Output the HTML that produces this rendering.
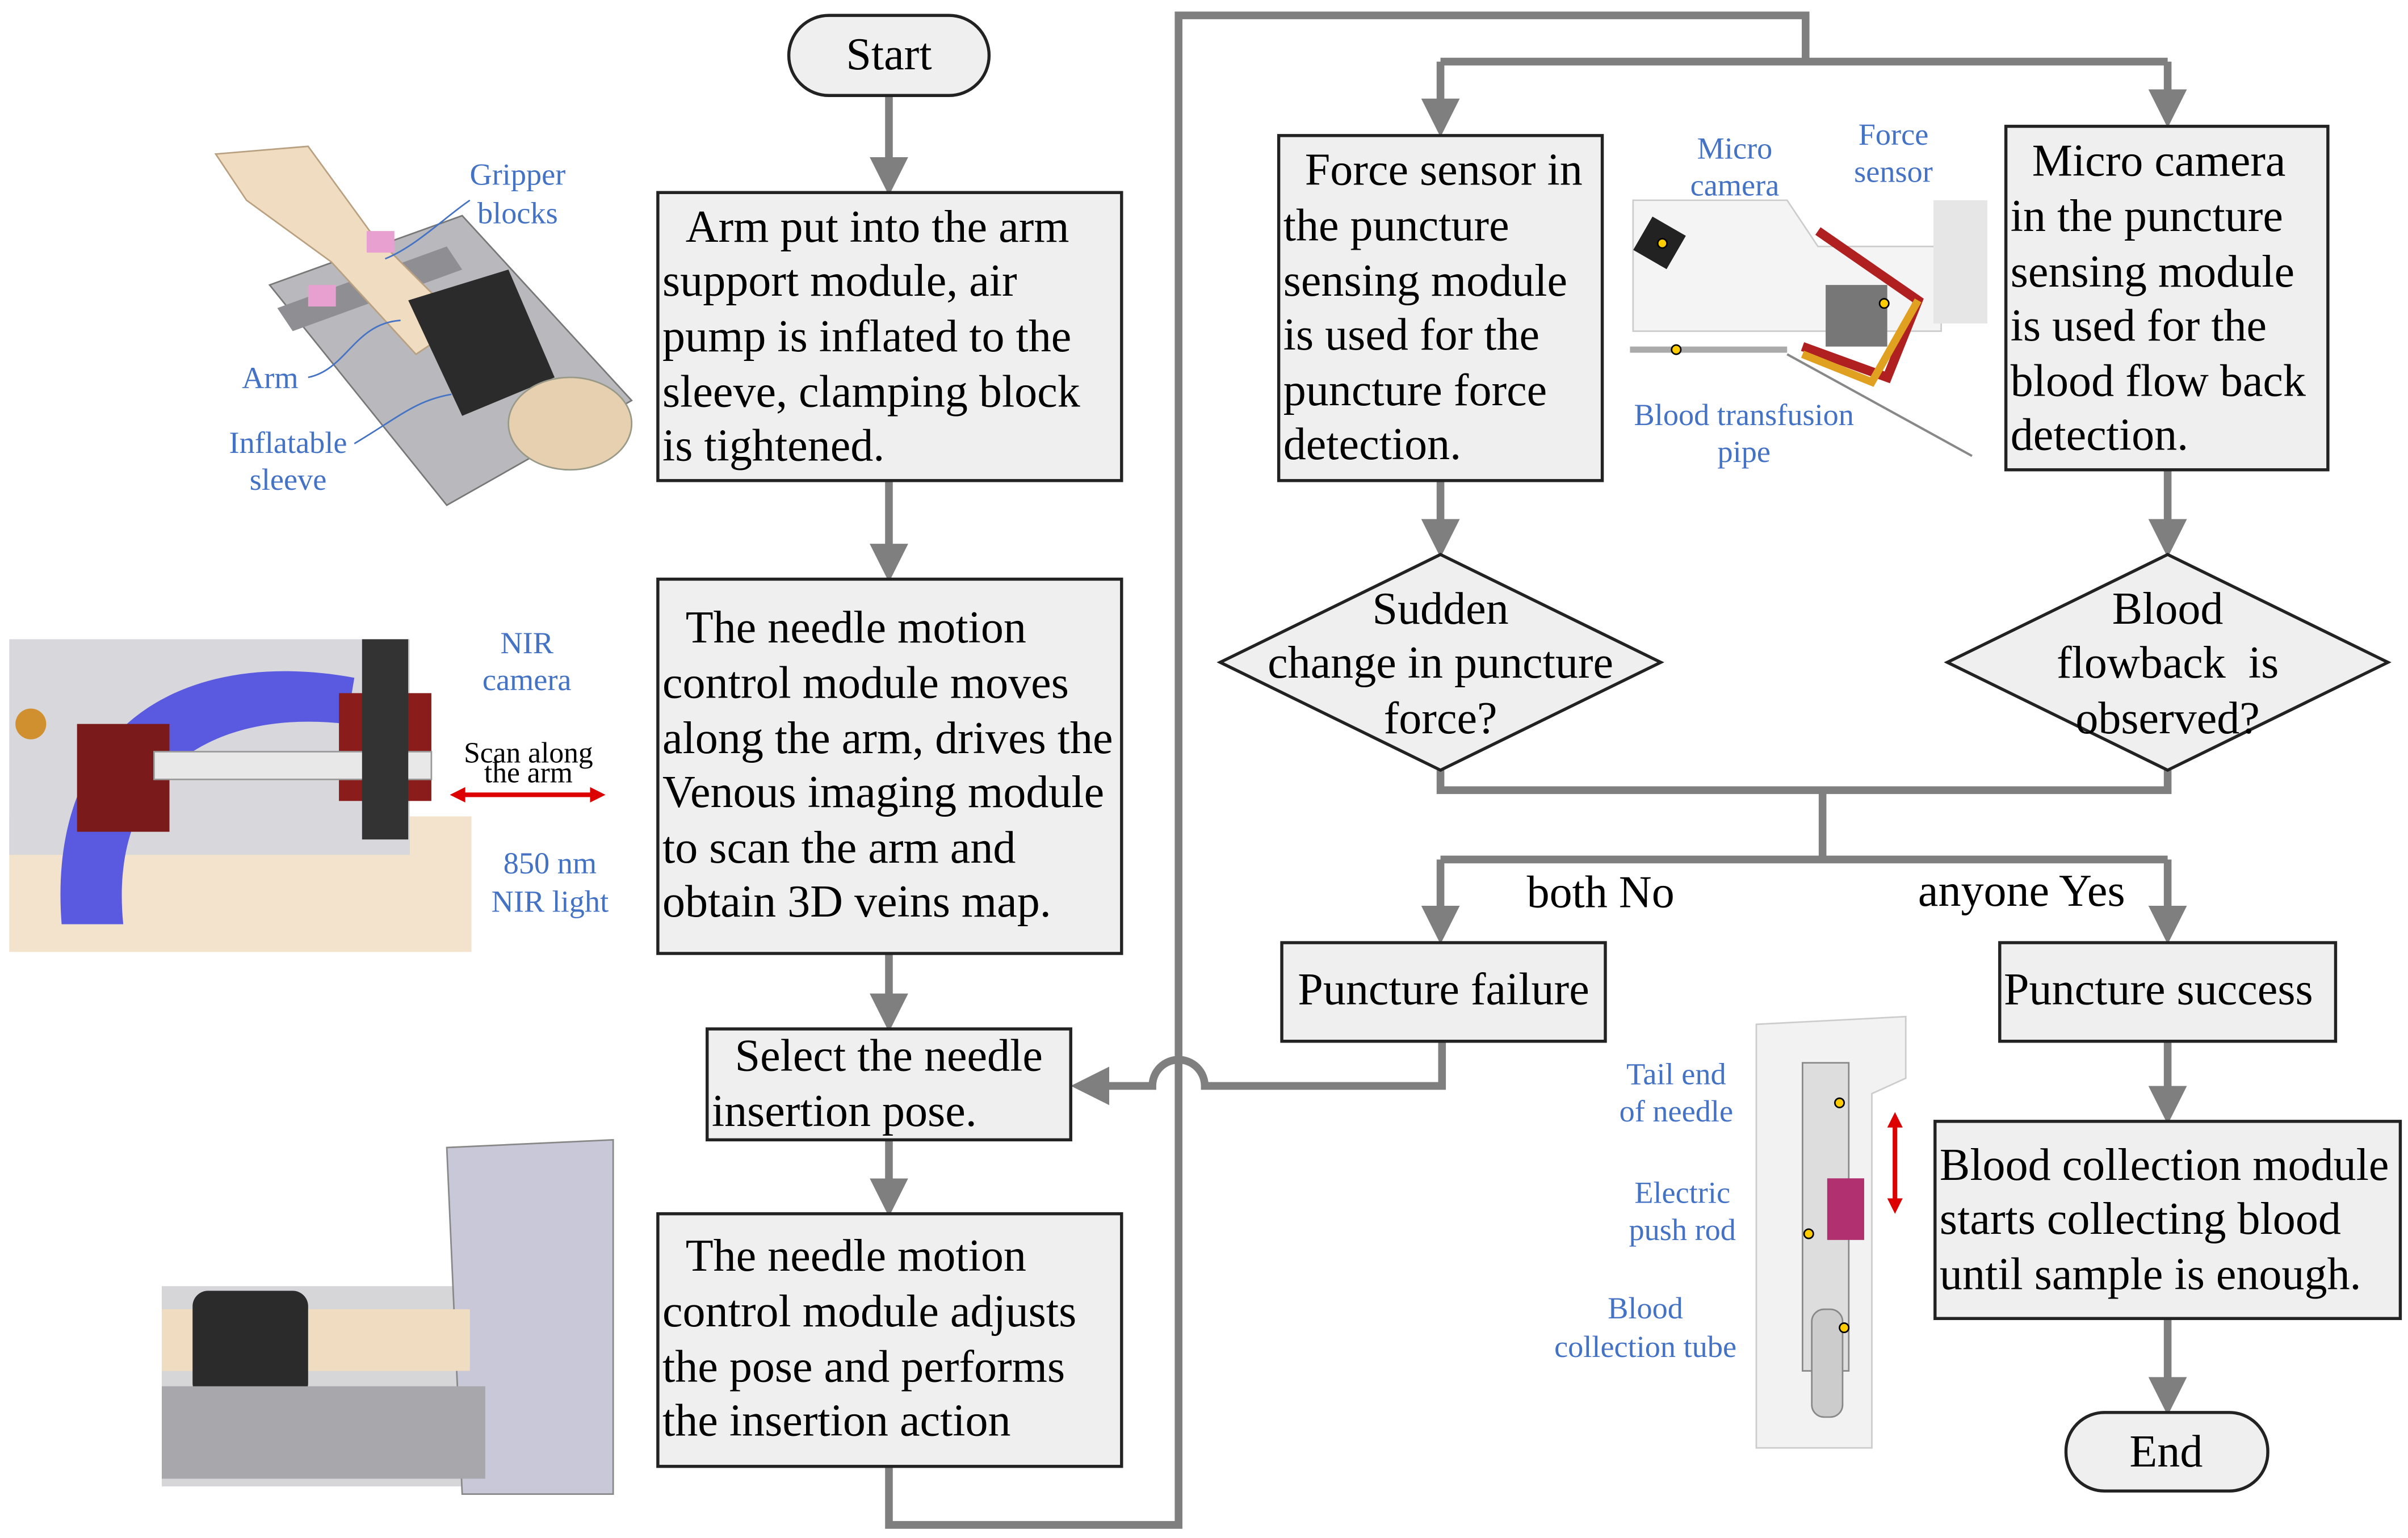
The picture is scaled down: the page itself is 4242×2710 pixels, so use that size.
<!DOCTYPE html>
<html><head><meta charset="utf-8"><style>
html,body{margin:0;padding:0;background:#fff;}
svg{display:block;}
.t{font-family:"Liberation Serif",serif;font-size:29.5px;fill:#000;}
.b{font-family:"Liberation Serif",serif;font-size:20px;fill:#4472c4;}
.box{fill:#efefef;stroke:#222;stroke-width:2;}
.ln{stroke:#7f7f7f;stroke-width:5;fill:none;}
.ar{fill:#7f7f7f;}
</style></head><body>
<svg width="4242" height="2710" viewBox="0 0 1563 998.5" preserveAspectRatio="none" xmlns="http://www.w3.org/2000/svg">
<defs><marker id="a" markerWidth="5" markerHeight="5" refX="4" refY="2.5" orient="auto" markerUnits="strokeWidth"><path d="M0,0 L5,2.5 L0,5 z" class="ar"/></marker></defs>

<path class="ln" d="M577,62 V122" marker-end="url(#a)"/>
<path class="ln" d="M577,312 V373" marker-end="url(#a)"/>
<path class="ln" d="M577,619 V665" marker-end="url(#a)"/>
<path class="ln" d="M577,740 V785" marker-end="url(#a)"/>
<path class="ln" d="M577,952 V990 H765 V10 H1172 V40"/>
<path class="ln" d="M935,40 H1407"/>
<path class="ln" d="M935,40 V84" marker-end="url(#a)"/>
<path class="ln" d="M1407,40 V78" marker-end="url(#a)"/>
<path class="ln" d="M935,312 V357" marker-end="url(#a)"/>
<path class="ln" d="M1407,305 V357" marker-end="url(#a)"/>
<path class="ln" d="M935,500 V513 H1407 V500"/>
<path class="ln" d="M1183,513 V558"/>
<path class="ln" d="M935,558 H1407"/>
<path class="ln" d="M935,558 V608" marker-end="url(#a)"/>
<path class="ln" d="M1407,558 V608" marker-end="url(#a)"/>
<path class="ln" d="M936,676 V705 H782 A17,17 0 0 0 748,705 H700" marker-end="url(#a)"/>
<path class="ln" d="M1407,676 V725" marker-end="url(#a)"/>
<path class="ln" d="M1407,856 V914" marker-end="url(#a)"/>

<rect x="512" y="10" width="130" height="52" rx="26" fill="#efefef" stroke="#222" stroke-width="2"/>
<text class="t" x="577" y="45" text-anchor="middle">Start</text>

<rect class="box" x="427" y="125" width="301" height="187"/>
<text class="t"><tspan x="445" y="157">Arm put into the arm</tspan><tspan x="430" y="192">support module, air</tspan><tspan x="430" y="228">pump is inflated to the</tspan><tspan x="430" y="264">sleeve, clamping block</tspan><tspan x="430" y="299">is tightened.</tspan></text>

<rect class="box" x="427" y="376" width="301" height="243"/>
<text class="t"><tspan x="445" y="417">The needle motion</tspan><tspan x="430" y="453">control module moves</tspan><tspan x="430" y="489">along the arm, drives the</tspan><tspan x="430" y="524">Venous imaging module</tspan><tspan x="430" y="560">to scan the arm and</tspan><tspan x="430" y="595">obtain 3D veins map.</tspan></text>

<rect class="box" x="459" y="668" width="236" height="72"/>
<text class="t"><tspan x="477" y="695">Select the needle</tspan><tspan x="462" y="731">insertion pose.</tspan></text>

<rect class="box" x="427" y="788" width="301" height="164"/>
<text class="t"><tspan x="445" y="825">The needle motion</tspan><tspan x="430" y="861">control module adjusts</tspan><tspan x="430" y="897">the pose and performs</tspan><tspan x="430" y="932">the insertion action</tspan></text>

<rect class="box" x="830" y="88" width="210" height="224"/>
<text class="t"><tspan x="847" y="120">Force sensor in</tspan><tspan x="833" y="156">the puncture</tspan><tspan x="833" y="192">sensing module</tspan><tspan x="833" y="227">is used for the</tspan><tspan x="833" y="263">puncture force</tspan><tspan x="833" y="298">detection.</tspan></text>

<rect class="box" x="1302" y="82" width="209" height="223"/>
<text class="t"><tspan x="1319" y="114">Micro camera</tspan><tspan x="1305" y="150">in the puncture</tspan><tspan x="1305" y="186">sensing module</tspan><tspan x="1305" y="221">is used for the</tspan><tspan x="1305" y="257">blood flow back</tspan><tspan x="1305" y="292">detection.</tspan></text>

<polygon points="935,360 1078,430 935,500 792,430" class="box"/>
<text class="t" text-anchor="middle"><tspan x="935" y="405">Sudden</tspan><tspan x="935" y="440">change in puncture</tspan><tspan x="935" y="476">force?</tspan></text>

<polygon points="1407,360 1550,430 1407,500 1264,430" class="box"/>
<text class="t" text-anchor="middle"><tspan x="1407" y="405">Blood</tspan><tspan x="1407" y="440">flowback&#160; is</tspan><tspan x="1407" y="476">observed?</tspan></text>

<text class="t" x="991" y="589">both No</text>
<text class="t" x="1245" y="588">anyone Yes</text>

<rect class="box" x="832" y="612" width="210" height="64"/>
<text class="t" x="937" y="652" text-anchor="middle">Puncture failure</text>
<rect class="box" x="1298" y="612" width="218" height="64"/>
<text class="t" x="1401" y="652" text-anchor="middle">Puncture success</text>

<rect class="box" x="1256" y="728" width="302" height="128"/>
<text class="t"><tspan x="1259" y="766">Blood collection module</tspan><tspan x="1259" y="801">starts collecting blood</tspan><tspan x="1259" y="837">until sample is enough.</tspan></text>

<rect x="1341" y="917" width="131" height="51" rx="25" fill="#efefef" stroke="#222" stroke-width="2"/>
<text class="t" x="1406" y="952" text-anchor="middle">End</text>

<g>
<polygon points="175,185 300,140 410,260 290,328" fill="#b9b9bd" stroke="#777"/>
<polygon points="180,200 290,160 300,175 190,215" fill="#8e8e93"/>
<path d="M140,100 L200,95 L240,150 L300,210 L270,230 L215,170 L160,130 Z" fill="#f0dcc0" stroke="#b8a080"/>
<path d="M265,195 L330,175 L360,245 L300,270 Z" fill="#2b2b2b"/>
<ellipse cx="370" cy="275" rx="40" ry="30" fill="#e7d0b0" stroke="#998"/>
<rect x="200" y="185" width="18" height="14" fill="#e8a0d0"/>
<rect x="238" y="150" width="18" height="14" fill="#e8a0d0"/>
</g>
<text class="b" text-anchor="middle"><tspan x="336" y="120">Gripper</tspan><tspan x="336" y="145">blocks</tspan></text>
<text class="b" x="157" y="252">Arm</text>
<text class="b" text-anchor="middle"><tspan x="187" y="294">Inflatable</tspan><tspan x="187" y="318">sleeve</tspan></text>
<path d="M200,245 C225,240 230,210 260,208" stroke="#4472c4" fill="none"/>
<path d="M230,288 C260,270 270,260 293,256" stroke="#4472c4" fill="none"/>
<path d="M305,130 C290,140 270,160 250,168" stroke="#4472c4" fill="none"/>

<g>
<rect x="6" y="530" width="300" height="88" fill="#f3e2cc"/>
<rect x="6" y="415" width="260" height="140" fill="#d8d8dc"/>
<path d="M40,600 C30,470 120,420 230,440 L225,470 C140,460 70,500 80,600 Z" fill="#5a5ae0"/>
<rect x="50" y="470" width="60" height="70" fill="#7a1a1a"/>
<rect x="220" y="450" width="60" height="70" fill="#8a1c1c"/>
<rect x="100" y="488" width="180" height="18" fill="#e8e8e8" stroke="#999"/>
<rect x="235" y="415" width="30" height="130" fill="#333"/>
<circle cx="20" cy="470" r="10" fill="#d09030"/>
</g>
<text class="b" text-anchor="middle"><tspan x="342" y="424">NIR</tspan><tspan x="342" y="448">camera</tspan></text>
<text x="343" y="495" font-family="Liberation Serif,serif" font-size="19" text-anchor="middle">Scan along</text>
<text x="343" y="508" font-family="Liberation Serif,serif" font-size="19" text-anchor="middle">the arm</text>
<path d="M295,516 H390" stroke="#d00" stroke-width="3"/>
<polygon points="292,516 302,511 302,521" fill="#d00"/><polygon points="393,516 383,511 383,521" fill="#d00"/>
<text class="b" text-anchor="middle"><tspan x="357" y="567">850 nm</tspan><tspan x="357" y="592">NIR light</tspan></text>

<g>
<rect x="105" y="835" width="293" height="130" fill="#d6d6d8"/>
<path d="M290,745 L398,740 L398,970 L300,970 Z" fill="#c8c8d8" stroke="#888"/>
<rect x="105" y="850" width="200" height="40" fill="#f0dcc0"/>
<rect x="125" y="838" width="75" height="70" rx="10" fill="#2b2b2b"/>
<rect x="105" y="900" width="210" height="60" fill="#a8a8ac"/>
</g>

<g>
<path d="M1060,130 L1160,130 L1180,160 L1260,160 L1260,215 L1060,215 Z" fill="#f4f4f4" stroke="#ccc"/>
<rect x="1065" y="145" width="25" height="25" fill="#222" transform="rotate(30 1077 157)"/>
<path d="M1180,150 L1245,195 L1225,245 L1170,225" fill="none" stroke="#b02020" stroke-width="6"/>
<rect x="1185" y="185" width="40" height="40" fill="#777"/>
<path d="M1170,230 L1215,248 L1245,195" fill="none" stroke="#e0a020" stroke-width="5"/>
<path d="M1058,227 H1160" stroke="#aaa" stroke-width="4"/>
<path d="M1160,230 L1280,296" stroke="#888" stroke-width="1.5"/>
<rect x="1255" y="130" width="35" height="80" fill="#e6e6e6"/>
<circle cx="1079" cy="158" r="3" fill="#fc0" stroke="#000"/><circle cx="1223" cy="197" r="3" fill="#fc0" stroke="#000"/><circle cx="1088" cy="227" r="3" fill="#fc0" stroke="#000"/>
</g>
<text class="b" text-anchor="middle"><tspan x="1126" y="103">Micro</tspan><tspan x="1126" y="127">camera</tspan></text>
<text class="b" text-anchor="middle"><tspan x="1229" y="94">Force</tspan><tspan x="1229" y="118">sensor</tspan></text>
<text class="b" text-anchor="middle"><tspan x="1132" y="276">Blood transfusion</tspan><tspan x="1132" y="300">pipe</tspan></text>

<g>
<path d="M1140,665 L1237,660 L1237,700 L1215,710 L1215,940 L1140,940 Z" fill="#f2f2f2" stroke="#ccc"/>
<rect x="1170" y="690" width="30" height="200" fill="#ddd" stroke="#888"/>
<rect x="1186" y="765" width="24" height="40" fill="#b03070"/>
<rect x="1176" y="850" width="20" height="70" rx="8" fill="#ccc" stroke="#888"/>
<circle cx="1194" cy="716" r="3" fill="#fc0" stroke="#000"/><circle cx="1174" cy="801" r="3" fill="#fc0" stroke="#000"/><circle cx="1197" cy="862" r="3" fill="#fc0" stroke="#000"/>
<path d="M1230,730 V780" stroke="#d00" stroke-width="3"/>
<polygon points="1230,722 1225,732 1235,732" fill="#d00"/><polygon points="1230,788 1225,778 1235,778" fill="#d00"/>
</g>
<text class="b" text-anchor="middle"><tspan x="1088" y="704">Tail end</tspan><tspan x="1088" y="728">of needle</tspan></text>
<text class="b" text-anchor="middle"><tspan x="1092" y="781">Electric</tspan><tspan x="1092" y="805">push rod</tspan></text>
<text class="b" text-anchor="middle"><tspan x="1068" y="856">Blood</tspan><tspan x="1068" y="881">collection tube</tspan></text>
</svg>
</body></html>
